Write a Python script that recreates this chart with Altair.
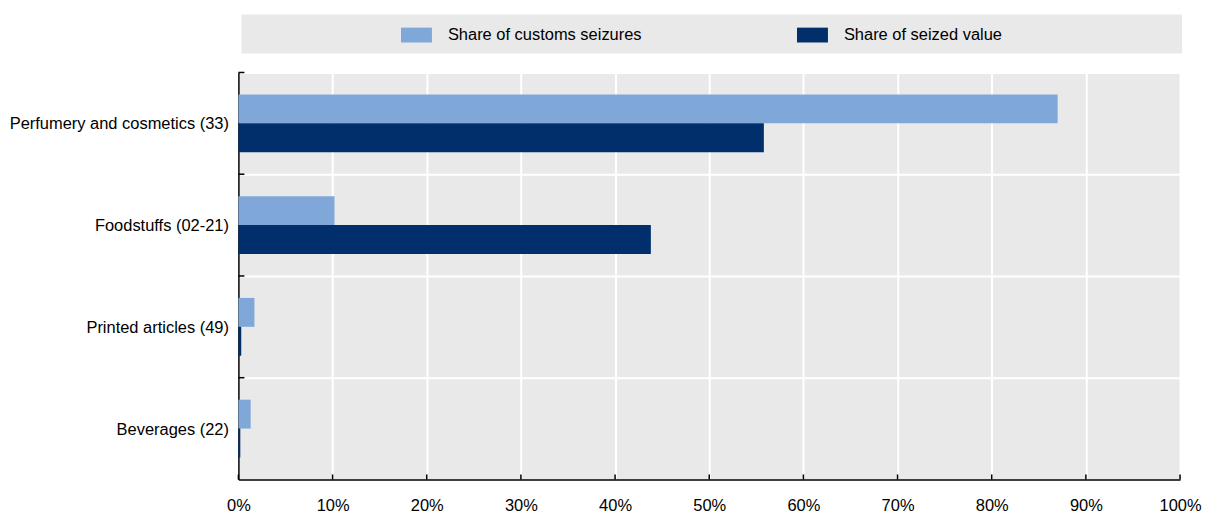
import altair as alt
import pandas as pd

categories = ["Perfumery and cosmetics (33)", "Foodstuffs (02-21)", "Printed articles (49)", "Beverages (22)"]
series = ["Share of customs seizures", "Share of seized value"]
share_seizures = [0.870, 0.102, 0.017, 0.013]
share_value = [0.558, 0.438, 0.003, 0.002]
x_ticks = [0.0, 0.1, 0.2, 0.3, 0.4, 0.5, 0.6, 0.7, 0.8, 0.9, 1.0]
colors = ["#7FA8D9", "#002F6C"]

rows = []
for c, a, b in zip(categories, share_seizures, share_value):
    rows.append({"cat": c, "series": series[0], "v": a})
    rows.append({"cat": c, "series": series[1], "v": b})
df = pd.DataFrame(rows)

FONT = "Liberation Sans"
FS = 16.5
W, H = 944, 408

xscale = alt.Scale(domain=[0, 1], nice=False, zero=True)
yscale = alt.Scale(paddingInner=0, paddingOuter=0)

bars = alt.Chart(df).mark_bar(cornerRadius=0).encode(
    x=alt.X("v:Q", scale=xscale,
            axis=alt.Axis(values=x_ticks, format=".0%", title=None, grid=True,
                          gridColor="white", gridWidth=2, domainColor="black",
                          domainWidth=1.5, ticks=False, labelPadding=18,
                          labelFlush=False, labelFontSize=FS, labelFont=FONT,
                          labelColor="#000")),
    y=alt.Y("cat:N", sort=categories, scale=yscale,
            axis=alt.Axis(title=None, grid=True, gridColor="white", gridWidth=2,
                          bandPosition=0, domainColor="black", domainWidth=1.5,
                          ticks=False, labelPadding=10, labelFontSize=FS,
                          labelFont=FONT, labelColor="#000", labelLimit=400,
                          labelOffset=1)),
    yOffset=alt.YOffset("series:N", sort=series,
                        scale=alt.Scale(paddingInner=0, paddingOuter=0.76)),
    color=alt.Color("series:N", sort=series,
                    scale=alt.Scale(domain=series, range=colors),
                    legend=alt.Legend(title=None, orient="none", legendX=163, legendY=-53,
                                      direction="horizontal", columns=2,
                                      columnPadding=155, padding=0,
                                      symbolType="M-1,-0.48H1V0.48H-1Z",
                                      symbolSize=961, symbolStrokeWidth=0,
                                      symbolOpacity=1, labelOffset=16,
                                      labelFontSize=FS, labelFont=FONT,
                                      labelColor="#000", labelLimit=400)),
)

legend_bg = alt.Chart(alt.Data(values=[{}])).mark_rect(color="#E9E9E9").encode(
    x=alt.value(3), x2=alt.value(946), y=alt.value(-58), y2=alt.value(-19)
)

xt = alt.Chart(pd.DataFrame({"t": x_ticks})).mark_rule(color="black", strokeWidth=1.5).encode(
    x=alt.X("t:Q", scale=xscale), y=alt.value(H), y2=alt.value(H - 5)
)

yt = alt.Chart(pd.DataFrame({"cat": categories})).mark_rule(color="black", strokeWidth=1.5).encode(
    y=alt.Y("cat:N", sort=categories, scale=yscale, bandPosition=0),
    x=alt.value(0), x2=alt.value(6)
)

chart = alt.layer(legend_bg, bars, xt, yt).properties(
    width=W, height=H, background="white",
    padding={"left": 0, "top": 6, "right": 0, "bottom": 0}
).configure_view(fill="#E9E9E9", stroke=None)

chart.save("out.html", embed_options={"renderer": "svg", "actions": False})
